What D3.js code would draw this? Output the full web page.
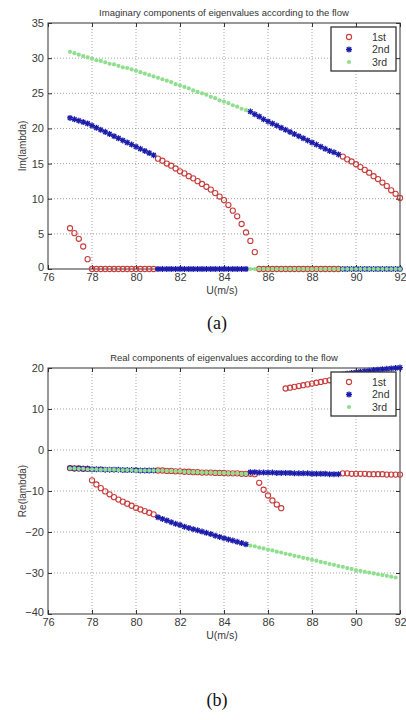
<!DOCTYPE html>
<html><head><meta charset="utf-8">
<script src="https://cdn.jsdelivr.net/npm/d3@7"></script>
<style>body{margin:0;background:#fff}svg{display:block}</style>
</head><body>
<script>
// ---- data ----
const U = [77,77.2,77.4,77.6,77.8,78,78.2,78.4,78.6,78.8,
  79,79.2,79.4,79.6,79.8,80,80.2,80.4,80.6,80.8,
  81,81.2,81.4,81.6,81.8,82,82.2,82.4,82.6,82.8,
  83,83.2,83.4,83.6,83.8,84,84.2,84.4,84.6,84.8,
  85,85.2,85.4,85.6,85.8,86,86.2,86.4,86.6,86.8,
  87,87.2,87.4,87.6,87.8,88,88.2,88.4,88.6,88.8,
  89,89.2,89.4,89.6,89.8,90,90.2,90.4,90.6,90.8,
  91,91.2,91.4,91.6,91.8,92];
const xTicks = [76,78,80,82,84,86,88,90,92];
const imTicks = [0,5,10,15,20,25,30,35];
const reTicks = [-40,-30,-20,-10,0,10,20];
const seriesNames = ["1st","2nd","3rd"];

const im1st = [5.8,5.1,4.3,3.2,1.4,0,0,0,0,0,
  0,0,0,0,0,0,0,0,0,0,
  15.7,15.4,15.0,14.7,14.3,13.9,13.6,13.2,12.9,12.5,
  12.1,11.7,11.3,10.8,10.3,9.8,9.1,8.3,7.5,6.4,
  5.2,4.0,2.4,0,0,0,0,0,0,0,
  0,0,0,0,0,0,0,0,0,0,
  0,0,16.0,15.6,15.3,14.9,14.5,14.1,13.7,13.2,
  12.8,12.3,11.8,11.2,10.7,10.1];
const im2nd = [21.5,21.3,21.1,20.9,20.7,20.4,20.1,19.8,19.5,19.2,
  18.9,18.6,18.3,18.0,17.7,17.4,17.1,16.8,16.5,16.2,
  0,0,0,0,0,0,0,0,0,0,
  0,0,0,0,0,0,0,0,0,0,
  0,22.4,22.0,21.7,21.3,21.0,20.7,20.4,20.1,19.8,
  19.5,19.2,18.9,18.6,18.3,18.0,17.7,17.4,17.1,16.8,
  16.6,16.3,0,0,0,0,0,0,0,0,
  0,0,0,0,0,0];
const im3rd = [30.9,30.7,30.5,30.3,30.1,29.9,29.7,29.6,29.4,29.2,
  29.1,28.9,28.7,28.6,28.4,28.2,28.0,27.8,27.6,27.4,
  27.2,27.0,26.8,26.6,26.3,26.1,25.9,25.7,25.4,25.2,
  25.0,24.8,24.5,24.3,24.0,23.8,23.6,23.3,23.1,22.8,
  22.6,0,0,0,0,0,0,0,0,0,
  0,0,0,0,0,0,0,0,0,0,
  0,0,0,0,0,0,0,0,0,0,
  0,0,0,0,0,0];

const re1st = [-4.4,-4.5,-4.5,-4.6,-4.6,-7.4,-8.4,-9.3,-10.1,-10.8,
  -11.5,-12.1,-12.6,-13.1,-13.6,-14.1,-14.5,-14.9,-15.3,-15.7,
  -5.0,-5.0,-5.1,-5.1,-5.2,-5.2,-5.3,-5.3,-5.4,-5.4,
  -5.5,-5.5,-5.5,-5.6,-5.6,-5.6,-5.7,-5.7,-5.7,-5.8,
  -5.8,-5.8,-5.9,-8.0,-9.7,-11.1,-12.3,-13.3,-14.2,15.0,
  15.2,15.4,15.6,15.8,16.0,16.2,16.4,16.6,16.8,17.0,
  17.2,17.4,-5.7,-5.7,-5.8,-5.8,-5.8,-5.8,-5.9,-5.9,
  -5.9,-5.9,-6.0,-6.0,-6.0,-6.0];
const re2nd = [-4.4,-4.5,-4.5,-4.6,-4.6,-4.7,-4.7,-4.7,-4.8,-4.8,
  -4.8,-4.8,-4.9,-4.9,-4.9,-4.9,-5.0,-5.0,-5.0,-5.0,
  -16.4,-16.8,-17.2,-17.6,-18.0,-18.3,-18.7,-19.0,-19.3,-19.6,
  -19.9,-20.2,-20.5,-20.9,-21.2,-21.5,-21.8,-22.1,-22.4,-22.7,
  -23.0,-5.4,-5.4,-5.5,-5.5,-5.5,-5.5,-5.6,-5.6,-5.6,
  -5.6,-5.7,-5.7,-5.7,-5.7,-5.8,-5.8,-5.8,-5.8,-5.9,
  -5.9,-5.9,18.4,18.6,18.8,18.9,19.1,19.2,19.3,19.5,
  19.6,19.7,19.8,19.9,20.0,20.1];
const re3rd = [-4.5,-4.5,-4.6,-4.6,-4.7,-4.7,-4.7,-4.8,-4.8,-4.8,
  -4.8,-4.9,-4.9,-4.9,-4.9,-5.0,-5.0,-5.0,-5.0,-5.0,
  -5.0,-5.0,-5.1,-5.1,-5.2,-5.2,-5.3,-5.3,-5.4,-5.4,
  -5.5,-5.5,-5.5,-5.6,-5.6,-5.6,-5.7,-5.7,-5.7,-5.8,
  -5.8,-23.3,-23.5,-23.8,-24.0,-24.3,-24.5,-24.8,-25.0,-25.3,
  -25.5,-25.8,-26.0,-26.3,-26.5,-26.8,-27.0,-27.3,-27.5,-27.8,
  -28.0,-28.3,-28.5,-28.8,-29.0,-29.3,-29.5,-29.7,-29.9,-30.1,
  -30.3,-30.5,-30.7,-30.9,-31.1,null];

// ---- drawing ----
const W = 406, H = 720;
const svg = d3.select("body").append("svg").attr("width", W).attr("height", H);
const FONT = "'Liberation Sans', Arial, sans-serif";
const RED = "#c83c3c", BLUE = "#1c1cab", GREEN = "#8fdf8f";
const asterisk = "M-3,0H3M0,-3V3M-2.2,-2.2L2.2,2.2M-2.2,2.2L2.2,-2.2";

function drawChart(cfg) {
  const L = 48, R = 400;
  const x = d3.scaleLinear().domain([76, 92]).range([L, R]);
  const y = d3.scaleLinear().domain(cfg.domain).range([cfg.bottom, cfg.top]);
  const g = svg.append("g");

  // grid
  g.append("g").selectAll("line").data(xTicks.slice(1, -1)).join("line")
    .attr("x1", d => x(d)).attr("x2", d => x(d)).attr("y1", cfg.top).attr("y2", cfg.bottom)
    .attr("stroke", "#8a8a8a").attr("stroke-width", 0.8).attr("stroke-dasharray", "1,2");
  g.append("g").selectAll("line").data(cfg.ticks.slice(1, -1)).join("line")
    .attr("y1", d => y(d)).attr("y2", d => y(d)).attr("x1", L).attr("x2", R)
    .attr("stroke", "#8a8a8a").attr("stroke-width", 0.8).attr("stroke-dasharray", "1,2");

  // axes
  const styleAxis = sel => {
    sel.select(".domain").remove();
    sel.selectAll(".tick line").attr("stroke", "#333");
    sel.selectAll("text").attr("fill", "#3a3a3a").style("font-family", FONT).style("font-size", "11px");
  };
  g.append("g").attr("transform", `translate(0,${cfg.bottom})`)
    .call(d3.axisBottom(x).tickValues(xTicks).tickSizeInner(-4).tickSizeOuter(0).tickPadding(4.5).tickFormat(d3.format("d")))
    .call(styleAxis);
  const yAx = g.append("g").attr("transform", `translate(${L},0)`)
    .call(d3.axisLeft(y).tickValues(cfg.ticks).tickSizeInner(-4).tickSizeOuter(0).tickPadding(4).tickFormat(d3.format("d")))
    .call(styleAxis);
  // lowest y label sits slightly raised, as in the reference
  yAx.selectAll(".tick text").filter(d => d === cfg.domain[0]).attr("dy", "0.1em");
  g.append("g").attr("transform", `translate(0,${cfg.top})`)
    .call(d3.axisTop(x).tickValues(xTicks).tickSizeInner(-4).tickSizeOuter(0).tickFormat(""))
    .call(styleAxis);
  g.append("g").attr("transform", `translate(${R},0)`)
    .call(d3.axisRight(y).tickValues(cfg.ticks).tickSizeInner(-4).tickSizeOuter(0).tickFormat(""))
    .call(styleAxis);
  g.append("rect").attr("x", L).attr("y", cfg.top).attr("width", R - L).attr("height", cfg.bottom - cfg.top)
    .attr("fill", "none").attr("stroke", "#333").attr("stroke-width", 1);

  // data
  const pts = vals => U.map((u, i) => ({u, v: vals[i]})).filter(d => d.v !== null);
  g.append("g").selectAll("circle").data(pts(cfg.s1)).join("circle")
    .attr("cx", d => x(d.u)).attr("cy", d => y(d.v)).attr("r", 2.6)
    .attr("fill", "none").attr("stroke", RED).attr("stroke-width", 1.1);
  g.append("g").selectAll("path").data(pts(cfg.s2)).join("path")
    .attr("transform", d => `translate(${x(d.u)},${y(d.v)})`).attr("d", asterisk)
    .attr("stroke", BLUE).attr("stroke-width", 1.3).attr("fill", "none");
  g.append("g").selectAll("circle").data(pts(cfg.s3)).join("circle")
    .attr("cx", d => x(d.u)).attr("cy", d => y(d.v)).attr("r", 2.1)
    .attr("fill", GREEN);

  // title and labels
  g.append("text").attr("x", (L + R) / 2).attr("y", cfg.top - 7).attr("text-anchor", "middle")
    .style("font-family", FONT).style("font-size", "9.5px").attr("fill", "#333").text(cfg.title);
  g.append("text").attr("x", (L + R) / 2 - 2).attr("y", cfg.bottom + 25).attr("text-anchor", "middle")
    .style("font-family", FONT).style("font-size", "10.5px").attr("fill", "#3a3a3a").text("U(m/s)");
  g.append("text").attr("transform", `translate(26,${(cfg.top + cfg.bottom) / 2}) rotate(-90)`)
    .attr("text-anchor", "middle").style("font-family", FONT).style("font-size", "10px")
    .attr("fill", "#3a3a3a").text(cfg.ylabel);

  // legend
  const lx = 331, ly = cfg.legendTop, lw = 65, lh = 44;
  const lg = g.append("g");
  lg.append("rect").attr("x", lx).attr("y", ly).attr("width", lw).attr("height", lh)
    .attr("fill", "#fff").attr("stroke", "#333").attr("stroke-width", 1.3);
  seriesNames.forEach((name, i) => {
    const cy = ly + 10 + i * 12.5, mx = lx + 18;
    if (i === 0) lg.append("circle").attr("cx", mx).attr("cy", cy).attr("r", 2.6).attr("fill", "none").attr("stroke", RED).attr("stroke-width", 1.1);
    if (i === 1) lg.append("path").attr("transform", `translate(${mx},${cy})`).attr("d", asterisk).attr("stroke", BLUE).attr("stroke-width", 1.3);
    if (i === 2) lg.append("circle").attr("cx", mx).attr("cy", cy).attr("r", 2.1).attr("fill", GREEN);
    lg.append("text").attr("x", lx + 41).attr("y", cy + 3.5).style("font-family", FONT).style("font-size", "10.5px")
      .attr("fill", "#333").text(name);
  });
}

drawChart({top: 23, bottom: 269, domain: [0, 35], ticks: imTicks,
  s1: im1st, s2: im2nd, s3: im3rd, legendTop: 27,
  title: "Imaginary components of eigenvalues according to the flow", ylabel: "Im(lambda)"});
drawChart({top: 368, bottom: 614, domain: [-40, 20], ticks: reTicks,
  s1: re1st, s2: re2nd, s3: re3rd, legendTop: 372,
  title: "Real components of eigenvalues according to the flow", ylabel: "Re(lambda)"});

svg.append("text").attr("x", 217).attr("y", 329).attr("text-anchor", "middle")
  .style("font-family", "'Liberation Serif', 'Times New Roman', serif").style("font-size", "18px")
  .attr("fill", "#111").text("(a)");
svg.append("text").attr("x", 217).attr("y", 706).attr("text-anchor", "middle")
  .style("font-family", "'Liberation Serif', 'Times New Roman', serif").style("font-size", "18px")
  .attr("fill", "#111").text("(b)");
</script>
</body></html>
